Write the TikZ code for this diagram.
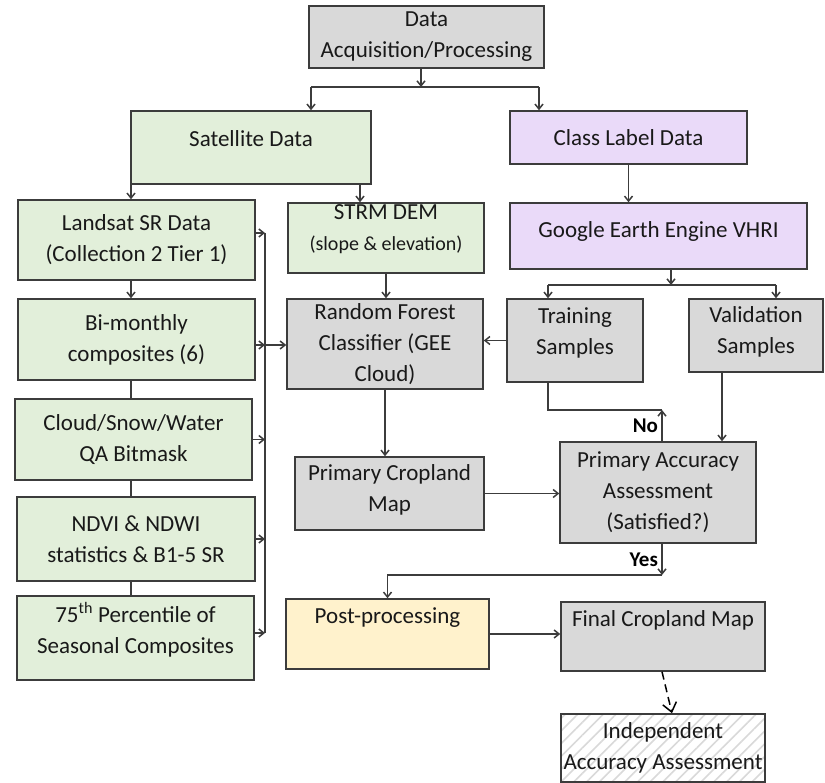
\documentclass[tikz,border=0pt]{standalone}
\usepackage{fontspec}
\setmainfont{Carlito}
\usepackage{tikz}
\usetikzlibrary{arrows.meta, patterns.meta}
\definecolor{boxgray}{RGB}{217,217,217}
\definecolor{satgreen}{RGB}{226,239,218}
\definecolor{labelpurple}{RGB}{234,218,249}
\definecolor{postyellow}{RGB}{255,242,204}
\definecolor{edgegray}{RGB}{60,60,60}

\begin{document}
\begin{tikzpicture}[
  x=1pt, y=-1pt,
  every node/.style={font=\fontsize{23}{31}\selectfont},
  block/.style={rectangle, draw=edgegray, line width=1.5pt, inner sep=1pt,
                align=center, text=black!90},
  arrow/.style={-{Straight Barb[length=5pt,width=8pt]}, line width=1.5pt, draw=edgegray},
  line/.style={line width=1.5pt, draw=edgegray},
  dasharrow/.style={-{Straight Barb[length=9pt,width=14pt]}, line width=1.5pt,
                    dash pattern=on 8pt off 5pt, draw=black},
  answer/.style={font=\fontsize{21}{24}\selectfont\bfseries},
  hatched/.style={preaction={fill=white},
                  pattern={Lines[angle=45,distance=9pt,line width=1.6pt]},
                  pattern color=gray!30}
]
\useasboundingbox (0,0) rectangle (825,783);

%--- Top level ---%
\node[block, fill=boxgray, minimum width=235pt, minimum height=62pt] (acq) at (426.5,37) {Data\\Acquisition/Processing};
\node[block, fill=satgreen, minimum width=240pt, minimum height=73pt, text depth=18pt] (sat) at (251,147.5) {Satellite Data};
\node[block, fill=labelpurple, minimum width=237pt, minimum height=53pt] (cls) at (628.5,137.5) {Class Label Data};

%--- Satellite inputs (left column) ---%
\node[block, fill=satgreen, minimum width=237pt, minimum height=80pt] (landsat) at (136.5,240) {Landsat SR Data\\(Collection 2 Tier 1)};
\node[block, fill=satgreen, minimum width=237pt, minimum height=81pt] (bim) at (136.5,339.5) {Bi-monthly\\composites (6)};
\node[block, fill=satgreen, minimum width=237pt, minimum height=81pt] (cloud) at (133.5,439.5) {Cloud/Snow/Water\\QA Bitmask};
\node[block, fill=satgreen, minimum width=238pt, minimum height=84pt] (ndvi) at (136,539) {NDVI \& NDWI\\statistics \& B1-5 SR};
\node[block, fill=satgreen, minimum width=237pt, minimum height=84pt, text depth=20pt] (p75) at (135.5,638) {75\textsuperscript{th} Percentile of\\Seasonal Composites};

%--- Middle column ---%
\node[block, fill=satgreen, minimum width=196pt, minimum height=70pt, text depth=20pt] (strm) at (386,238) {STRM DEM\\{\fontsize{20}{24}\selectfont(slope \& elevation)}};
\node[block, fill=boxgray, minimum width=196pt, minimum height=90pt] (rf) at (385,344) {Random Forest\\Classifier (GEE\\Cloud)};
\node[block, fill=boxgray, minimum width=189pt, minimum height=73pt, text depth=10pt] (pcm) at (389.5,493.5) {Primary Cropland\\Map};
\node[block, fill=postyellow, minimum width=203pt, minimum height=70pt, text depth=36pt] (post) at (387.5,634) {Post-processing};

%--- Class label branch ---%
\node[block, fill=labelpurple, minimum width=297pt, minimum height=66pt, text depth=12pt] (gee) at (658.5,236) {Google Earth Engine VHRI};
\node[block, fill=boxgray, minimum width=136pt, minimum height=83pt, text depth=18pt] (train) at (575,340.5) {Training\\Samples};
\node[block, fill=boxgray, minimum width=134pt, minimum height=73pt, text depth=10pt] (valid) at (756,335.5) {Validation\\Samples};
\node[block, fill=boxgray, minimum width=196pt, minimum height=101pt] (pa) at (658,492.5) {Primary Accuracy\\Assessment\\(Satisfied?)};
\node[block, fill=boxgray, minimum width=204pt, minimum height=69pt, text depth=36pt] (final) at (663,636.5) {Final Cropland Map};
\node[block, hatched, minimum width=204pt, minimum height=68pt] (indep) at (663,748) {Independent\\Accuracy Assessment};

%--- Splits ---%
\coordinate (acqsplit) at (421,87);
\coordinate (splitL) at (311,87);
\coordinate (splitR) at (539,87);
\draw[arrow] (acq.south -| acqsplit) -- (acqsplit);
\draw[line] (splitL) -- (splitR);
\draw[arrow] (splitL) -- (splitL |- sat.north);
\draw[arrow] (splitR) -- (splitR |- cls.north);

\coordinate (colx) at (131,0);
\coordinate (strmin) at ([xshift=-26pt]strm.north);
\draw[arrow] (sat.south -| colx) -- (landsat.north -| colx);
\draw[arrow] (sat.south -| strmin) -- (strmin);
\draw[arrow] (cls.south) -- (cls.south |- gee.north);

\coordinate (geesplit) at (671,285);
\coordinate (trainL) at (548,285);
\coordinate (validR) at (776,285);
\draw[arrow] (gee.south -| geesplit) -- (geesplit);
\draw[line] (trainL) -- (validR);
\draw[arrow] (trainL) -- (trainL |- train.north);
\draw[arrow] (validR) -- (validR |- valid.north);

%--- Left column chain and bus ---%
\draw[arrow] (landsat.south -| colx) -- (bim.north -| colx);
\draw[line] (bim.south -| colx) -- (cloud.north -| colx);
\draw[line] (cloud.south -| colx) -- (ndvi.north -| colx);
\draw[line] (ndvi.south -| colx) -- (p75.north -| colx);

\coordinate (bustop) at (265,233);
\coordinate (busmid) at (265,345);
\coordinate (busbot) at (265,633);
\draw[line] (bustop) -- (busbot);
\draw[arrow] (landsat.east |- bustop) -- (bustop);
\draw[arrow] (bim.east |- busmid) -- (busmid);
\draw[arrow] (cloud.east) -- (cloud.east -| bustop);
\draw[arrow] (ndvi.east) -- (ndvi.east -| bustop);
\draw[arrow] (p75.east |- busbot) -- (busbot);
\draw[arrow] (busmid) -- (busmid -| rf.west);

%--- Classification flow ---%
\draw[arrow] (strm.south) -- (strm.south |- rf.north);
\draw[arrow] (rf.south) -- (rf.south |- pcm.north);
\draw[arrow] (train.west) -- (train.west -| rf.east);
\draw[arrow] (pcm.east) -- (pcm.east -| pa.west);

\coordinate (validout) at ([xshift=-34pt]valid.south);
\draw[arrow] (validout) -- (validout |- pa.north);

%--- Decision loop ---%
\coordinate (nocorner) at (662,410);
\draw[line] (train.south -| trainL) |- (nocorner);
\draw[arrow] (pa.north -| nocorner) -- (nocorner) node[answer, midway, left] {No};

\coordinate (yescorner) at (662,575);
\draw[arrow] (pa.south -| yescorner) -- (yescorner) node[answer, midway, left] {Yes};
\draw[arrow] (yescorner) -- (post.north |- yescorner) -- (post.north);

\draw[arrow] (post.east) -- (post.east -| final.west);
\draw[dasharrow] ([xshift=-1pt]final.south) -- ([xshift=9pt]indep.north);

\end{tikzpicture}
\end{document}
